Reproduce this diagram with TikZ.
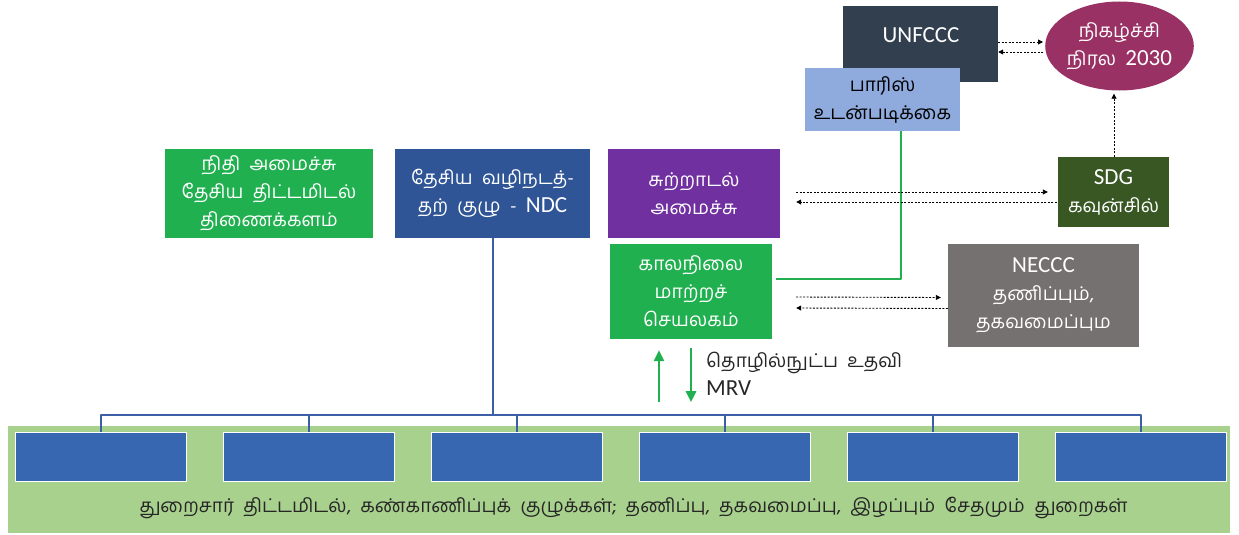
\documentclass[tikz,border=0pt]{standalone}
\usepackage{fontspec}
\setmainfont{Carlito}
\newfontfamily\tamil[Script=Tamil]{Hind Madurai}
\newcommand{\lat}[1]{{\rmfamily\fontsize{23}{28}\selectfont #1}}
\usetikzlibrary{arrows.meta,shapes.geometric}
\definecolor{navybox}{HTML}{323F4F}
\definecolor{parisblue}{HTML}{8FAADC}
\definecolor{agendared}{HTML}{9A3164}
\definecolor{sdggreen}{HTML}{385723}
\definecolor{necgrey}{HTML}{767171}
\definecolor{officegreen}{HTML}{21B04F}
\definecolor{ndcblue}{HTML}{2F5597}
\definecolor{envpurple}{HTML}{7030A0}
\definecolor{bandgreen}{HTML}{A9D18E}
\definecolor{sectorblue}{HTML}{3867B1}
\definecolor{linkblue}{HTML}{3D5FA8}
\begin{document}
\begin{tikzpicture}[x=1pt,y=-1pt,line join=round,
	box/.style={inner sep=0pt,align=center,text=white,font=\tamil\fontsize{19}{28}\selectfont},
	dots/.style={dash pattern=on 2pt off 1.5pt,line width=0.9pt,-{Triangle[length=5pt,width=5pt]}},
	greenarrow/.style={officegreen,line width=2.5pt,-{Triangle[length=11pt,width=10pt]}},
	bracket/.style={linkblue,line width=2pt}]
	%	\draw[color=gray!50,dashed] (0,0) grid[step=50] (1239,535);
	\useasboundingbox (0,0) rectangle (1239,535);
	% sector band
	\node[fill=bandgreen,minimum width=1222pt,minimum height=107pt] (band) at (619,479.5) {};
	\foreach \i in {0,...,5}
		\node[fill=sectorblue,draw=white,line width=1pt,minimum width=171pt,minimum height=49pt] (sec\i) at (100.5+208*\i,456.5) {};
	\node[box,text=black!85] (bandtext) at (633.5,508) {துறைசார்\ \ திட்டமிடல்,\ \ கண்காணிப்புக்\ \ குழுக்கள்;\ \ தணிப்பு,\ \ தகவமைப்பு,\ \ இழப்பும்\ \ சேதமும்\ \ துறைகள்};
	% top boxes
	\node[box,fill=navybox,minimum width=155pt,minimum height=76pt] (unfccc) at (920.5,44) {};
	\node[box] (unfccctext) at (921,35) {\lat{UNFCCC}};
	\node[box,fill=parisblue,text=black,minimum width=155pt,minimum height=63pt] (paris) at (882.5,99.5) {பாரிஸ்\\உடன்படிக்கை};
	\node[box,ellipse,fill=agendared,minimum width=145pt,minimum height=89pt] (agenda) at (1119.5,46) {நிகழ்ச்சி\\நிரல\ \ \lat{2030}};
	\node[box,fill=sdggreen,minimum width=111pt,minimum height=70pt] (sdg) at (1113.5,192) {\lat{SDG}\\கவுன்சில்};
	\node[box,fill=officegreen,minimum width=208pt,minimum height=89pt] (finance) at (269,193.5) {நிதி\ \ அமைச்சு\\தேசிய\ \ திட்டமிடல்\\திணைக்களம்};
	\node[box,fill=ndcblue,minimum width=195pt,minimum height=89pt] (ndc) at (492.5,193.5) {தேசிய\ \ வழிநடத்-\\தற்\ \ குழு\ \ -\ \ \lat{NDC}};
	\node[box,fill=envpurple,minimum width=172pt,minimum height=89pt] (env) at (694,193.5) {சுற்றாடல்\\அமைச்சு};
	\node[box,fill=officegreen,minimum width=162pt,minimum height=95pt] (cc) at (691,291.5) {காலநிலை\\மாற்றச்\\செயலகம்};
	\node[box,fill=necgrey,minimum width=191pt,minimum height=103pt] (neccc) at (1043.5,295.5) {\lat{NECCC}\\தணிப்பும்,\\தகவமைப்பும};
	\node[box,text=black!85,align=left,anchor=west] (support) at (706,374) {தொழில்நுட்ப\ \ உதவி\\\lat{MRV}};
	% links
	\draw[bracket] (ndc.south) -- (ndc.south |- 0,415);
	\draw[bracket] (sec0.north) -- ++(0,-17) -| (sec5.north);
	\foreach \i in {1,...,4}
		\draw[bracket] (sec\i.north) -- ++(0,-17);
	\draw[officegreen,line width=2.5pt] ([xshift=18.5pt]paris.south) |- ([xshift=4pt,yshift=12.5pt]cc.east);
	\draw[greenarrow] ([xshift=-32pt,yshift=-63pt]cc.south) -- ([xshift=-32pt,yshift=-11pt]cc.south);
	\draw[greenarrow] ([yshift=-9pt]cc.south) -- ([yshift=-63pt]cc.south);
	\draw[dots] ([yshift=2pt]unfccc.east) -- ([xshift=-2pt,yshift=4pt]agenda.west);
	\draw[dots] ([xshift=-2pt,yshift=-6pt]agenda.west) -- ([yshift=-8pt]unfccc.east);
	\draw[dots] ([xshift=0.5pt]sdg.north) -- ([xshift=-5.5pt,yshift=-3pt]agenda.south);
	\draw[dots] ([xshift=16pt,yshift=1.5pt]env.east) -- ([xshift=-10pt]sdg.west);
	\draw[dots] ([xshift=-1pt,yshift=-10pt]sdg.west) -- ([xshift=16pt,yshift=-8.5pt]env.east);
	\draw[dots] ([xshift=24pt,yshift=-5.5pt]cc.east) -- ([xshift=-7pt,yshift=-2pt]neccc.west);
	\draw[dots] ([yshift=-13pt]neccc.west) -- ([xshift=24pt,yshift=-16.5pt]cc.east);
\end{tikzpicture}
\end{document}
